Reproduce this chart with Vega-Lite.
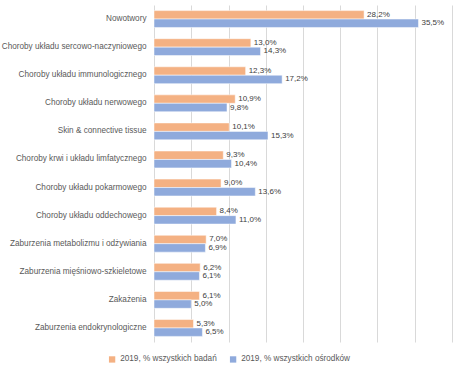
{
  "$schema": "https://vega.github.io/schema/vega-lite/v6.json",
  "autosize": "none",
  "width": 298,
  "height": 337,
  "padding": {"left": 154, "top": 5, "right": 6, "bottom": 30},
  "background": "white",
  "config": {
    "locale": {"number": {"decimal": ",", "thousands": " ", "grouping": [3], "currency": ["", " zł"]}},
    "view": {"stroke": null},
    "font": "Liberation Sans",
    "text": {"font": "Liberation Sans"}
  },
  "data": {
    "values": [
      {"cat": "Nowotwory", "series": "2019, % wszystkich badań", "v": 0.282},
      {"cat": "Nowotwory", "series": "2019, % wszystkich ośrodków", "v": 0.355},
      {"cat": "Choroby układu sercowo-naczyniowego", "series": "2019, % wszystkich badań", "v": 0.130},
      {"cat": "Choroby układu sercowo-naczyniowego", "series": "2019, % wszystkich ośrodków", "v": 0.143},
      {"cat": "Choroby układu immunologicznego", "series": "2019, % wszystkich badań", "v": 0.123},
      {"cat": "Choroby układu immunologicznego", "series": "2019, % wszystkich ośrodków", "v": 0.172},
      {"cat": "Choroby układu nerwowego", "series": "2019, % wszystkich badań", "v": 0.109},
      {"cat": "Choroby układu nerwowego", "series": "2019, % wszystkich ośrodków", "v": 0.098},
      {"cat": "Skin & connective tissue", "series": "2019, % wszystkich badań", "v": 0.101},
      {"cat": "Skin & connective tissue", "series": "2019, % wszystkich ośrodków", "v": 0.153},
      {"cat": "Choroby krwi i układu limfatycznego", "series": "2019, % wszystkich badań", "v": 0.093},
      {"cat": "Choroby krwi i układu limfatycznego", "series": "2019, % wszystkich ośrodków", "v": 0.104},
      {"cat": "Choroby układu pokarmowego", "series": "2019, % wszystkich badań", "v": 0.090},
      {"cat": "Choroby układu pokarmowego", "series": "2019, % wszystkich ośrodków", "v": 0.136},
      {"cat": "Choroby układu oddechowego", "series": "2019, % wszystkich badań", "v": 0.084},
      {"cat": "Choroby układu oddechowego", "series": "2019, % wszystkich ośrodków", "v": 0.110},
      {"cat": "Zaburzenia metabolizmu i odżywiania", "series": "2019, % wszystkich badań", "v": 0.070},
      {"cat": "Zaburzenia metabolizmu i odżywiania", "series": "2019, % wszystkich ośrodków", "v": 0.069},
      {"cat": "Zaburzenia mięśniowo-szkieletowe", "series": "2019, % wszystkich badań", "v": 0.062},
      {"cat": "Zaburzenia mięśniowo-szkieletowe", "series": "2019, % wszystkich ośrodków", "v": 0.061},
      {"cat": "Zakażenia", "series": "2019, % wszystkich badań", "v": 0.061},
      {"cat": "Zakażenia", "series": "2019, % wszystkich ośrodków", "v": 0.050},
      {"cat": "Zaburzenia endokrynologiczne", "series": "2019, % wszystkich badań", "v": 0.053},
      {"cat": "Zaburzenia endokrynologiczne", "series": "2019, % wszystkich ośrodków", "v": 0.065}
    ]
  },
  "encoding": {
    "y": {
      "field": "cat", "type": "nominal", "sort": null,
      "scale": {"paddingInner": 0.4, "paddingOuter": 0.2},
      "axis": {"title": null, "domain": false, "ticks": false, "labelPadding": 8, "labelFontSize": 8.2, "labelColor": "#595959", "labelFont": "Liberation Sans", "labelLimit": 200}
    },
    "yOffset": {"field": "series", "type": "nominal", "sort": null, "scale": {"paddingInner": 0, "paddingOuter": 0}},
    "x": {
      "field": "v", "type": "quantitative",
      "scale": {"domain": [0, 0.4], "nice": false},
      "axis": {"title": null, "labels": false, "ticks": false, "domain": false, "values": [0, 0.05, 0.1, 0.15, 0.2, 0.25, 0.3, 0.35, 0.4], "gridColor": "#d9d9d9", "gridWidth": 1}
    }
  },
  "layer": [
    {
      "mark": {"type": "bar", "stroke": "white", "strokeWidth": 0.5},
      "encoding": {
        "color": {
          "field": "series", "type": "nominal", "sort": null,
          "scale": {"range": ["#F4B183", "#8FAADC"]},
          "legend": {
            "title": null, "orient": "none", "direction": "horizontal",
            "legendX": -46, "legendY": 350,
            "symbolType": "square", "symbolSize": 40, "symbolStrokeWidth": 0,
            "labelFontSize": 8.2, "labelColor": "#595959", "labelFont": "Liberation Sans",
            "columnPadding": 12, "labelLimit": 300
          }
        }
      }
    },
    {
      "mark": {"type": "text", "align": "left", "baseline": "middle", "dx": 3, "fontSize": 8, "color": "#404040"},
      "encoding": {
        "text": {"field": "v", "type": "quantitative", "format": ".1%"}
      }
    }
  ]
}
